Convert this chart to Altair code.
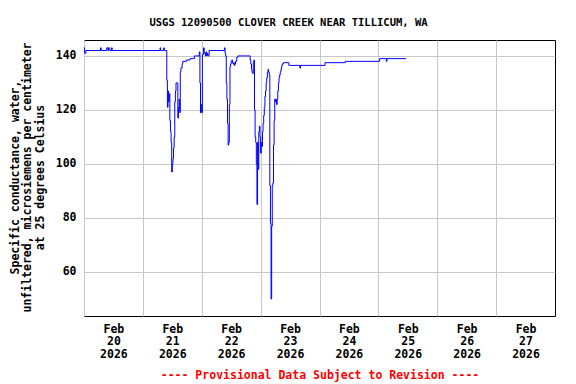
import altair as alt
import pandas as pd

# Hours since 2026-02-20 00:00 and specific conductance values (step data)
hours = [0.0, 0.25, 0.75, 6.75, 7.0, 9.25, 9.75, 10.0, 10.5, 11.25, 11.5,
         31.0, 31.25, 32.5, 32.75, 33.75, 34.0, 34.25, 34.5, 34.75, 35.0,
         35.25, 35.5, 35.75, 36.0, 36.25, 36.5, 36.75, 37.0, 37.25, 37.5,
         38.25, 38.5, 38.75, 39.0, 39.25, 39.5, 40.0, 40.25, 41.75, 43.25,
         45.0, 47.0, 47.25, 47.5, 47.75, 48.0, 48.25, 48.75, 49.0, 49.5,
         49.75, 50.0, 50.25, 50.5, 51.0, 57.25, 57.5, 57.75, 58.0, 58.25,
         58.5, 58.75, 59.0, 59.25, 59.5, 59.75, 60.0, 60.25, 60.5, 60.75,
         61.0, 61.25, 61.5, 61.75, 62.25, 62.75, 67.75, 68.0, 68.25, 68.5,
         68.75, 69.0, 69.25, 69.5, 69.75, 70.0, 70.25, 70.5, 70.75, 71.0,
         71.25, 71.5, 71.75, 72.0, 72.25, 72.5, 72.75, 73.0, 73.25, 73.5,
         73.75, 74.0, 74.25, 74.5, 74.75, 75.0, 75.25, 75.5, 75.75, 76.0,
         76.25, 76.5, 76.75, 77.0, 77.25, 77.5, 77.75, 78.0, 78.25, 78.5,
         78.75, 79.0, 79.25, 79.5, 79.75, 80.0, 80.25, 80.5, 80.75, 81.25,
         83.5, 88.0, 88.25, 98.25, 106.5, 120.5, 123.25, 123.5, 131.25]
values = [143, 141, 142, 143, 142, 143, 142, 143, 142, 143, 142,
          143, 142, 143, 142, 131, 121, 127, 123, 126, 116,
          112, 108, 97, 100, 102, 106, 110, 123, 127, 130,
          117, 121, 124, 119, 134, 135.5, 137, 138, 138.5, 139,
          140, 141.5, 130, 119, 122, 119, 140.5, 143, 141, 140,
          141.5, 140, 141, 140, 142, 143, 141, 140, 130, 124,
          115, 107, 108, 122, 136, 137, 138, 138.5, 137.5, 137,
          137.5, 136.5, 137, 138, 139.5, 140, 138.5, 137, 135, 134,
          133.5, 137.5, 138.5, 120, 110, 108, 100, 85, 108, 98,
          112, 114, 110, 104, 108, 106.5, 112, 115, 118, 121,
          125, 127, 130, 132, 134, 135, 134, 133, 92, 78,
          50, 77, 92, 93, 107, 116, 124, 123, 124, 122,
          124, 127, 130, 132, 133, 134, 135, 136, 137, 137.5,
          136.5, 135.5, 136.5, 137.5, 138, 139, 138, 139, 139]

tick_days = [20, 21, 22, 23, 24, 25, 26, 27]
y_ticks = [60, 80, 100, 120, 140]

start = pd.Timestamp("2026-02-20")
df = pd.DataFrame({
    "time": [start + pd.Timedelta(hours=h) for h in hours],
    "value": values,
})

font = "DejaVu Sans Mono"

chart = alt.Chart(df).mark_line(
    interpolate="step-after", color="#0000ff", strokeWidth=1
).encode(
    x=alt.X(
        "time:T",
        scale=alt.Scale(domain=[alt.DateTime(year=2026, month=2, date=20),
                                alt.DateTime(year=2026, month=2, date=28)]),
        axis=alt.Axis(
            values=[alt.DateTime(year=2026, month=2, date=d) for d in tick_days],
            labelExpr="[timeFormat(datum.value, '%b'), timeFormat(datum.value, '%d'), timeFormat(datum.value, '%Y')]",
            labelOffset=29.4, labelFlush=False, labelOverlap=False, labelBound=False,
            ticks=False, grid=True, gridColor="#c8c8c8", gridWidth=1, domain=False,
            labelFont=font, labelFontWeight="bold", labelFontSize=11.5,
            labelLineHeight=12.7, labelPadding=7, labelBaseline="top",
            labelColor="black",
            title="---- Provisional Data Subject to Revision ----",
            titleColor="#ff0000", titleFont=font, titleFontSize=11.5,
            titleFontWeight="bold", titlePadding=10,
        ),
    ),
    y=alt.Y(
        "value:Q",
        scale=alt.Scale(domain=[43.7, 145.9], nice=False, zero=False),
        axis=alt.Axis(
            values=y_ticks, ticks=False, grid=True, gridColor="#c8c8c8",
            gridWidth=1, domain=False,
            labelFont=font, labelFontWeight="bold", labelFontSize=11.5,
            labelPadding=8, labelColor="black",
            title=["Specific conductance, water,",
                   "unfiltered, microsiemens per centimeter",
                   "at 25 degrees Celsius"],
            titleFont=font, titleFontWeight="bold", titleFontSize=11.5,
            titleAngle=270, titleBaseline="middle", titleAlign="center",
            titleLineHeight=12.5, titleX=-69, titleY=137, titleColor="black",
        ),
    ),
).properties(
    width=471,
    height=276,
    title=alt.TitleParams(
        text="USGS 12090500 CLOVER CREEK NEAR TILLICUM, WA",
        font=font, fontSize=10.5, fontWeight="bold", anchor="middle",
        dx=-31, offset=12, color="black",
    ),
    autosize=alt.AutoSizeParams(type="none"),
    padding={"left": 76, "top": 32, "right": 13, "bottom": 66},
    background="white",
).configure_view(
    stroke="black", strokeWidth=1
)

chart.save("out.html", embed_options={"renderer": "svg", "actions": False})
